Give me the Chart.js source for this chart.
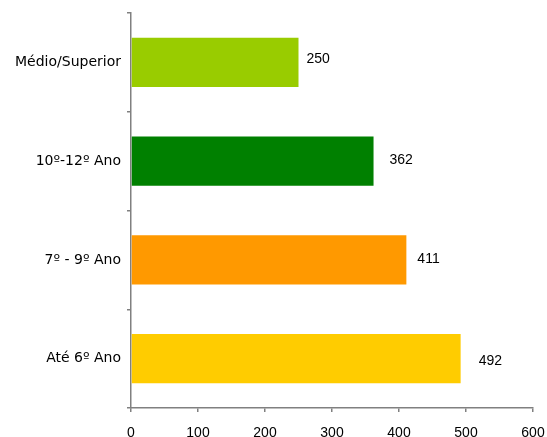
<!DOCTYPE html>
<html>
<head>
<meta charset="utf-8">
<script src="https://cdn.jsdelivr.net/npm/chart.js@4/dist/chart.umd.min.js"></script>
<style>
html,body{margin:0;padding:0;background:#fff;}
#wrap{width:547px;height:437px;}
</style>
</head>
<body>
<div id="wrap"><canvas id="chart" width="547" height="437"></canvas></div>
<script>
const categories = ['Médio/Superior', '10º-12º Ano', '7º - 9º Ano', 'Até 6º Ano'];
const values = [250, 362, 411, 492];
const barColors = ['#99CC00', '#008000', '#FF9900', '#FFCC00'];
const xTicks = [0, 100, 200, 300, 400, 500, 600];
// label nudges (px) as placed in the original
const labelDx = [8, 16, 11, 18];
const labelDy = [-3, -1, -1, 3];

// labels at the end of each bar
const valueLabels = {
  id: 'valueLabels',
  afterDatasetsDraw(chart){
    const ctx = chart.ctx;
    const meta = chart.getDatasetMeta(0);
    ctx.save();
    ctx.font = '14px "Liberation Sans", Arial, sans-serif';
    ctx.fillStyle = '#000';
    ctx.textBaseline = 'middle';
    ctx.textAlign = 'left';
    meta.data.forEach((bar, i)=>{
      ctx.fillText(String(values[i]), bar.x + labelDx[i], bar.y + labelDy[i]);
    });
    ctx.restore();
  }
};

new Chart(document.getElementById('chart').getContext('2d'), {
  type: 'bar',
  data: {
    labels: categories,
    datasets: [{data: values, backgroundColor: barColors, barPercentage: 0.5, categoryPercentage: 1}]
  },
  options: {
    indexAxis: 'y',
    responsive: false,
    animation: false,
    layout: {padding: {left: 0, right: 14, top: 13, bottom: 0}},
    plugins: {legend: {display: false}, tooltip: {enabled: false}},
    scales: {
      x: {
        min: 0, max: 600,
        afterBuildTicks: axis => { axis.ticks = xTicks.map(v => ({value: v})); },
        afterFit: axis => { axis.height = 29; axis.paddingRight = 0; axis.paddingLeft = 0; },
        border: {color: '#808080', width: 1.5},
        grid: {drawOnChartArea: false, tickLength: 4, color: '#808080', lineWidth: 1.5},
        ticks: {color: '#000', padding: 13, maxRotation: 0, font: {family: '"Liberation Sans", Arial, sans-serif', size: 14}}
      },
      y: {
        afterFit: axis => { axis.width = 131; axis.paddingTop = 0; axis.paddingBottom = 0; },
        border: {color: '#808080', width: 1.5},
        grid: {drawOnChartArea: false, tickLength: 4, color: '#808080', lineWidth: 1.5, offset: true},
        ticks: {color: '#000', padding: 6, font: {family: '"DejaVu Sans", Verdana, sans-serif', size: 14}}
      }
    }
  },
  plugins: [valueLabels]
});
</script>
</body>
</html>
